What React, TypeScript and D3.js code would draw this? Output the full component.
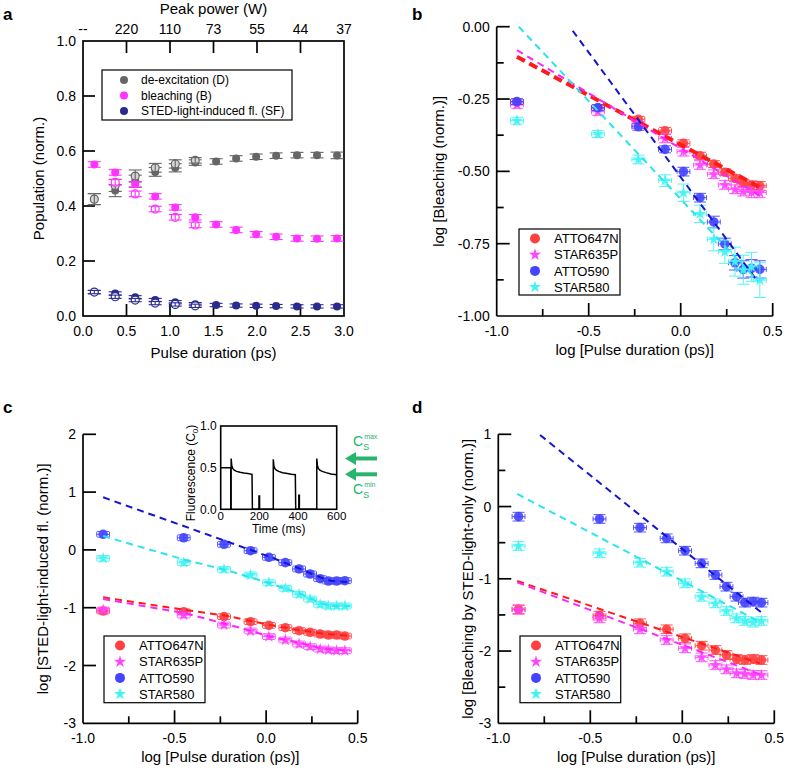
import React from "react";
import * as d3 from "d3";

const FONT = "'Liberation Sans', Arial, Helvetica, sans-serif";

// ---------- panel a : population vs pulse duration ----------
const PULSE_PS = [0.13, 0.37, 0.6, 0.83, 1.06, 1.29, 1.53, 1.76, 1.99, 2.22, 2.46, 2.69, 2.92];
const PULSE_TICKS = [0, 0.5, 1, 1.5, 2, 2.5, 3];
const PEAK_POWER_LABELS = ["--", "220", "110", "73", "55", "44", "37"];
const POP_TICKS = [0, 0.2, 0.4, 0.6, 0.8, 1];

const DEEXC = [0.425, 0.456, 0.49, 0.524, 0.539, 0.558, 0.562, 0.573, 0.579, 0.583, 0.585, 0.585, 0.584];
const DEEXC_OPEN = [0.425, 0.475, 0.509, 0.539, 0.553, 0.566];
const DEEXC_ERR = [0.02, 0.022, 0.022, 0.016, 0.015, 0.01, 0.01, 0.01, 0.01, 0.01, 0.01, 0.01, 0.012];
const BLEACH = [0.551, 0.522, 0.479, 0.435, 0.395, 0.359, 0.333, 0.313, 0.297, 0.288, 0.282, 0.281, 0.282];
const BLEACH_OPEN = [null, 0.486, 0.444, 0.389, 0.359, 0.331];
const STEDFL = [0.087, 0.082, 0.068, 0.058, 0.05, 0.043, 0.04, 0.038, 0.037, 0.036, 0.035, 0.035, 0.035];
const STEDFL_OPEN = [0.087, 0.07, 0.058, 0.047, 0.042, 0.037];
const A_LABELS = ["de-excitation (D)", "bleaching (B)", "STED-light-induced fl. (SF)"];

// ---------- panels b-d : log-log ----------
const LOG_PULSE = [-0.89, -0.45, -0.23, -0.085, 0.015, 0.105, 0.18, 0.24, 0.295, 0.34, 0.385, 0.43];
const LOG_X_MAJOR = [-1, -0.5, 0, 0.5];
const LOG_X_MINOR = [-0.75, -0.25, 0.25];
const DYES = ["ATTO647N", "STAR635P", "ATTO590", "STAR580"];

// b: bleaching
const B_ATTO647N = [-0.26, -0.28, -0.32, -0.36, -0.403, -0.446, -0.475, -0.503, -0.524, -0.54, -0.548, -0.55];
const B_STAR635P = [-0.27, -0.294, -0.34, -0.386, -0.432, -0.478, -0.51, -0.547, -0.562, -0.57, -0.573, -0.573];
const B_ATTO590 = [-0.259, -0.28, -0.346, -0.424, -0.501, -0.591, -0.675, -0.751, -0.816, -0.839, -0.835, -0.839];
const B_STAR580 = [-0.325, -0.371, -0.459, -0.532, -0.574, -0.647, -0.735, -0.778, -0.812, -0.84, -0.83, -0.876];
const B_ERR_ATTO647N = [0.01, 0.01, 0.01, 0.012, 0.012, 0.012, 0.012, 0.012, 0.012, 0.012, 0.015, 0.015];
const B_ERR_STAR635P = [0.012, 0.012, 0.012, 0.015, 0.015, 0.015, 0.015, 0.015, 0.015, 0.015, 0.018, 0.018];
const B_ERR_ATTO590 = [0.01, 0.01, 0.012, 0.012, 0.015, 0.015, 0.02, 0.02, 0.025, 0.03, 0.03, 0.03];
const B_ERR_STAR580 = [0.012, 0.012, 0.015, 0.02, 0.03, 0.03, 0.04, 0.04, 0.05, 0.05, 0.05, 0.06];
const B_FIT_ATTO647N = [[-0.89, -0.104], [0.43, -0.555]];
const B_FIT_STAR635P = [[-0.89, -0.081], [0.43, -0.585]];
const B_FIT_ATTO590 = [[-0.587, -0.014], [0.413, -0.876]];
const B_FIT_STAR580 = [[-0.88, 0], [0.42, -0.88]];
const B_Y_MAJOR = [0, -0.25, -0.5, -0.75, -1];
const B_Y_MINOR = [-0.125, -0.375, -0.625, -0.875];

// c: STED-light-induced fluorescence
const C_ATTO647N = [-1.057, -1.069, -1.155, -1.242, -1.305, -1.346, -1.398, -1.426, -1.455, -1.472, -1.472, -1.49];
const C_STAR635P = [-1.04, -1.126, -1.3, -1.403, -1.5, -1.559, -1.628, -1.674, -1.715, -1.732, -1.744, -1.744];
const C_ATTO590 = [0.27, 0.21, 0.097, -0.014, -0.128, -0.221, -0.33, -0.417, -0.498, -0.538, -0.538, -0.533];
const C_STAR580 = [-0.146, -0.221, -0.336, -0.434, -0.567, -0.665, -0.769, -0.85, -0.942, -0.97, -0.97, -0.97];
const C_FIT_ATTO647N = [[-0.89, -0.82], [-0.44, -1.04], [-0.22, -1.138], [-0.085, -1.225], [0.02, -1.3], [0.18, -1.386], [0.3, -1.443], [0.46, -1.49]];
const C_FIT_STAR635P = [[-0.89, -0.85], [-0.44, -1.097], [-0.22, -1.282], [-0.085, -1.398], [0.02, -1.5], [0.18, -1.605], [0.3, -1.702], [0.46, -1.744]];
const C_FIT_ATTO590 = [[-0.89, 0.91], [0.02, -0.12], [0.18, -0.32], [0.3, -0.48], [0.36, -0.54], [0.46, -0.56]];
const C_FIT_STAR580 = [[-0.89, 0.24], [-0.44, -0.175], [-0.22, -0.348], [-0.085, -0.475], [0.02, -0.578], [0.18, -0.751], [0.3, -0.924], [0.36, -0.97], [0.46, -0.98]];
const C_Y_MAJOR = [2, 1, 0, -1, -2, -3];

// c inset: fluorescence trace
const TRACE = [
  [0, 0.5], [52, 0.5], [52, 0], [54, 0], [54, 0.61], [57, 0.53], [62, 0.49], [70, 0.47], [82, 0.455], [100, 0.445],
  [120, 0.435], [140, 0.43], [162, 0.42], [164, 0], [198, 0], [198, 0.16], [201, 0.16], [201, 0], [272, 0],
  [272, 0.6], [275, 0.52], [280, 0.49], [288, 0.47], [300, 0.455], [320, 0.44], [345, 0.43], [365, 0.42],
  [386, 0.415], [388, 0], [404, 0], [404, 0.17], [407, 0.17], [407, 0], [497, 0], [497, 0.61], [500, 0.53],
  [505, 0.49], [513, 0.47], [525, 0.455], [545, 0.44], [570, 0.425], [600, 0.415],
];
const TIME_TICKS = [0, 200, 400, 600];
const FLUO_TICKS = [0, 0.5, 1];
const CS_MAX = 0.61;
const CS_MIN = 0.42;

// d: bleaching by STED light only
const D_ATTO647N = [-1.422, -1.51, -1.616, -1.699, -1.824, -1.926, -1.986, -2.055, -2.11, -2.124, -2.11, -2.124];
const D_STAR635P = [-1.43, -1.547, -1.699, -1.847, -1.962, -2.087, -2.193, -2.253, -2.308, -2.318, -2.332, -2.332];
const D_ATTO590 = [-0.14, -0.172, -0.292, -0.44, -0.611, -0.786, -0.947, -1.109, -1.248, -1.33, -1.316, -1.33];
const D_STAR580 = [-0.546, -0.647, -0.777, -0.901, -1.063, -1.248, -1.34, -1.446, -1.547, -1.584, -1.607, -1.584];
const D_FIT_ATTO647N = [[-0.897, -1.03], [0.421, -2.17]];
const D_FIT_STAR635P = [[-0.897, -1.05], [0.43, -2.33]];
const D_FIT_ATTO590 = [[-0.773, 0.99], [0.431, -1.469]];
const D_FIT_STAR580 = [[-0.897, 0.174], [0.43, -1.608]];
const D_Y_MAJOR = [1, 0, -1, -2, -3];
const D_Y_MINOR = [0.5, -0.5, -1.5, -2.5];

const LOG_X_ERR = 0.035;

const DYE_STYLE = {
  ATTO647N: { fill: "#ff4040", line: "#ff1a1a", shape: "circle" },
  STAR635P: { fill: "#ff44ff", line: "#ff22ff", shape: "star" },
  ATTO590: { fill: "#4444ff", line: "#1515d0", shape: "circle" },
  STAR580: { fill: "#40f4f4", line: "#2ce4ec", shape: "star" },
};

const starD = d3.symbol().type(d3.symbolStar).size(46)();

function Marker({ cx, cy, shape, fill, r = 4.8 }) {
  if (shape === "star")
    return <path d={starD} transform={`translate(${cx},${cy})`} fill={fill} fillOpacity={0.9} />;
  return <circle cx={cx} cy={cy} r={r} fill={fill} fillOpacity={0.9} />;
}

function Legend({ x, y, w, h, items, first, step, mx, tx, fontSize }) {
  return (
    <g>
      <rect x={x} y={y} width={w} height={h} fill="#fff" stroke="#000" strokeWidth={1.2} />
      {items.map((it, i) => (
        <g key={i}>
          {it.shape === "star" ? (
            <path d={starD} transform={`translate(${x + mx},${y + first + i * step})`} fill={it.fill} />
          ) : (
            <circle cx={x + mx} cy={y + first + i * step} r={it.r || 5} fill={it.fill} />
          )}
          <text x={x + tx} y={y + first + i * step} dy="0.36em" fontSize={fontSize}>
            {it.label}
          </text>
        </g>
      ))}
    </g>
  );
}

function LogPanel({ x, y, yMajor, yMinor, yDigits, series, thickRed, legend, xTitle, yTitle, yTitleX }) {
  const [xmin, xmax] = x.domain();
  const [ymin, ymax] = y.domain();
  const line = d3.line().x((d) => x(d[0])).y((d) => y(d[1]));
  return (
    <g>
      {/* axes */}
      <line x1={x(xmin)} x2={x(xmin)} y1={y(ymax)} y2={y(ymin)} stroke="#000" strokeWidth={1.7} />
      <line x1={x(xmin)} x2={x(xmax)} y1={y(ymin)} y2={y(ymin)} stroke="#000" strokeWidth={1.7} />
      {yMajor.filter((v) => v !== ymin).map((v) => (
        <line key={"ym" + v} x1={x(xmin)} x2={x(xmin) + 13} y1={y(v)} y2={y(v)} stroke="#000" strokeWidth={1.7} />
      ))}
      {yMinor.map((v) => (
        <line key={"yn" + v} x1={x(xmin)} x2={x(xmin) + 7} y1={y(v)} y2={y(v)} stroke="#000" strokeWidth={1.7} />
      ))}
      {LOG_X_MAJOR.filter((v) => v !== xmin).map((v) => (
        <line key={"xm" + v} x1={x(v)} x2={x(v)} y1={y(ymin)} y2={y(ymin) - 13} stroke="#000" strokeWidth={1.7} />
      ))}
      {LOG_X_MINOR.map((v) => (
        <line key={"xn" + v} x1={x(v)} x2={x(v)} y1={y(ymin)} y2={y(ymin) - 7} stroke="#000" strokeWidth={1.7} />
      ))}
      {yMajor.map((v) => (
        <text key={"yl" + v} x={x(xmin) - 7} y={y(v)} dy="0.36em" textAnchor="end" fontSize={14}>
          {v.toFixed(yDigits)}
        </text>
      ))}
      {LOG_X_MAJOR.map((v) => (
        <text key={"xl" + v} x={x(v)} y={y(ymin) + 20} textAnchor="middle" fontSize={14}>
          {v.toFixed(1)}
        </text>
      ))}
      <text x={(x(xmin) + x(xmax)) / 2} y={y(ymin) + 39} textAnchor="middle" fontSize={15}>
        {xTitle}
      </text>
      <text
        transform={`translate(${yTitleX},${(y(ymin) + y(ymax)) / 2}) rotate(-90)`}
        dy="0.36em"
        textAnchor="middle"
        fontSize={15}
      >
        {yTitle}
      </text>

      {/* points with error bars */}
      {series.map((s) =>
        s.values.map((v, i) => {
          const st = DYE_STYLE[s.name];
          const cx = x(LOG_PULSE[i]);
          const cy = y(v);
          const e = Array.isArray(s.err) ? s.err[i] : s.err;
          const xl = x(LOG_PULSE[i] - LOG_X_ERR);
          const xr = x(LOG_PULSE[i] + LOG_X_ERR);
          const yt = y(v + e);
          const yb = y(v - e);
          return (
            <g key={s.name + i}>
              <Marker cx={cx} cy={cy} shape={st.shape} fill={st.fill} />
              <g stroke={st.fill} strokeWidth={1} strokeOpacity={0.9}>
                <line x1={xl} x2={xr} y1={cy} y2={cy} />
                <line x1={xl} x2={xl} y1={cy - 2.5} y2={cy + 2.5} />
                <line x1={xr} x2={xr} y1={cy - 2.5} y2={cy + 2.5} />
                <line x1={cx} x2={cx} y1={yt} y2={yb} />
                <line x1={cx - 6} x2={cx + 6} y1={yt} y2={yt} />
                <line x1={cx - 6} x2={cx + 6} y1={yb} y2={yb} />
              </g>
            </g>
          );
        })
      )}

      {/* fit lines */}
      {series.map((s) => {
        const st = DYE_STYLE[s.name];
        const thick = thickRed && s.name === "ATTO647N";
        return (
          <path
            key={"fit" + s.name}
            d={line(s.fit)}
            fill="none"
            stroke={st.line}
            strokeWidth={thick ? 4 : 2}
            strokeDasharray={thick ? "9 5" : "7 5"}
          />
        );
      })}

      <Legend
        {...legend}
        items={DYES.map((n) => ({ label: n, shape: DYE_STYLE[n].shape, fill: DYE_STYLE[n].fill }))}
        first={9.5}
        step={16.2}
        mx={16}
        tx={35}
        fontSize={13}
      />
    </g>
  );
}

function PanelA() {
  const x = d3.scaleLinear().domain([0, 3]).range([83, 344]);
  const y = d3.scaleLinear().domain([0, 1]).range([316, 41]);
  const groups = [
    { vals: DEEXC, open: DEEXC_OPEN, err: DEEXC_ERR, color: "#666666", openFill: "#d4d4d4" },
    { vals: BLEACH, open: BLEACH_OPEN, err: 0.01, color: "#ff33ff", openFill: "#ffffff" },
    { vals: STEDFL, open: STEDFL_OPEN, err: 0.006, color: "#2b2b8f", openFill: "#ffffff" },
  ];
  const bar = (cx, v, e, color, key) => (
    <g key={key} stroke={color} strokeWidth={1.1}>
      <line x1={cx} x2={cx} y1={y(v - e)} y2={y(v + e)} />
      <line x1={cx - 6.5} x2={cx + 6.5} y1={y(v - e)} y2={y(v - e)} />
      <line x1={cx - 6.5} x2={cx + 6.5} y1={y(v + e)} y2={y(v + e)} />
    </g>
  );
  return (
    <g>
      <rect x={x(0)} y={y(1)} width={x(3) - x(0)} height={y(0) - y(1)} fill="none" stroke="#000" strokeWidth={1.7} />
      {PULSE_TICKS.slice(1, -1).map((t) => (
        <g key={"t" + t} stroke="#000" strokeWidth={1.7}>
          <line x1={x(t)} x2={x(t)} y1={y(0)} y2={y(0) - 12} />
          <line x1={x(t)} x2={x(t)} y1={y(1)} y2={y(1) + 12} />
        </g>
      ))}
      {POP_TICKS.slice(1, -1).map((t) => (
        <line key={"p" + t} x1={x(0)} x2={x(0) + 12} y1={y(t)} y2={y(t)} stroke="#000" strokeWidth={1.7} />
      ))}
      {PULSE_TICKS.map((t) => (
        <text key={"bl" + t} x={x(t)} y={y(0) + 20} textAnchor="middle" fontSize={14}>
          {t.toFixed(1)}
        </text>
      ))}
      {PULSE_TICKS.map((t, i) => (
        <text key={"tl" + t} x={x(t)} y={y(1) - 7} textAnchor="middle" fontSize={14}>
          {PEAK_POWER_LABELS[i]}
        </text>
      ))}
      {POP_TICKS.map((t) => (
        <text key={"ll" + t} x={x(0) - 7} y={y(t)} dy="0.36em" textAnchor="end" fontSize={14}>
          {t.toFixed(1)}
        </text>
      ))}
      <text x={(x(0) + x(3)) / 2} y={14} textAnchor="middle" fontSize={15}>Peak power (W)</text>
      <text x={(x(0) + x(3)) / 2} y={358} textAnchor="middle" fontSize={15}>Pulse duration (ps)</text>
      <text transform={`translate(39,${(y(0) + y(1)) / 2}) rotate(-90)`} dy="0.36em" textAnchor="middle" fontSize={15}>
        Population (norm.)
      </text>

      {groups.map((g, gi) => (
        <g key={"g" + gi}>
          {g.vals.map((v, i) => {
            const e = Array.isArray(g.err) ? g.err[i] : g.err;
            return (
              <g key={i}>
                <circle cx={x(PULSE_PS[i])} cy={y(v)} r={4} fill={g.color} />
                {bar(x(PULSE_PS[i]), v, e, g.color, "e")}
              </g>
            );
          })}
          {g.open.map((v, i) => {
            if (v === null) return null;
            const e = Array.isArray(g.err) ? g.err[i] : g.err;
            return (
              <g key={"o" + i}>
                <circle cx={x(PULSE_PS[i])} cy={y(v)} r={4} fill={g.openFill} stroke={g.color} strokeWidth={1.2} />
                {bar(x(PULSE_PS[i]), v, e, g.color, "e")}
              </g>
            );
          })}
        </g>
      ))}

      <Legend
        x={102}
        y={70}
        w={190}
        h={50}
        items={groups.map((g, i) => ({ label: A_LABELS[i], shape: "circle", fill: g.color, r: 4 }))}
        first={10}
        step={15.5}
        mx={22}
        tx={39}
        fontSize={12}
      />
    </g>
  );
}

function Inset() {
  const x = d3.scaleLinear().domain([0, 600]).range([220.7, 336.7]);
  const y = d3.scaleLinear().domain([0, 1]).range([509.3, 426]);
  const line = d3.line().x((d) => x(d[0])).y((d) => y(d[1]));
  const green = "#27b46c";
  const arrow = (v, key) => {
    const ay = y(v);
    return (
      <g key={key}>
        <line x1={354} x2={377} y1={ay} y2={ay} stroke={green} strokeWidth={4} />
        <path d={`M345,${ay} L356,${ay - 6.5} L356,${ay + 6.5} Z`} fill={green} />
      </g>
    );
  };
  return (
    <g>
      <path d={line(TRACE)} fill="none" stroke="#000" strokeWidth={1.5} />
      <rect x={x(0)} y={y(1)} width={x(600) - x(0)} height={y(0) - y(1)} fill="none" stroke="#000" strokeWidth={1.6} />
      {FLUO_TICKS.map((t) => (
        <text key={"f" + t} x={x(0) - 4} y={y(t)} dy="0.36em" textAnchor="end" fontSize={12}>
          {t.toFixed(1)}
        </text>
      ))}
      {TIME_TICKS.map((t) => (
        <text key={"t" + t} x={x(t)} y={y(0) + 11} textAnchor="middle" fontSize={11.5}>
          {t}
        </text>
      ))}
      <text x={x(300)} y={y(0) + 24} textAnchor="middle" fontSize={12}>Time (ms)</text>
      <text transform={`translate(191,473) rotate(-90)`} dy="0.36em" textAnchor="middle" fontSize={12}>
        Fluorescence (C<tspan fontSize={8} dy="3">0</tspan><tspan dy="-3">)</tspan>
      </text>
      {arrow(CS_MAX, "amax")}
      {arrow(CS_MIN, "amin")}
      <text x={353} y={y(CS_MAX) - 12} fill={green} fontSize={14}>
        C<tspan fontSize={9} dy="4">S</tspan><tspan fontSize={7} dx="-5" dy="-11">max</tspan>
      </text>
      <text x={353} y={y(CS_MIN) + 20} fill={green} fontSize={14}>
        C<tspan fontSize={9} dy="4">S</tspan><tspan fontSize={7} dx="-5" dy="-11">min</tspan>
      </text>
    </g>
  );
}

export default function App() {
  const xb = d3.scaleLinear().domain([-1, 0.5]).range([496.7, 772.7]);
  const yb = d3.scaleLinear().domain([-1, 0]).range([316, 26.7]);
  const xc = d3.scaleLinear().domain([-1, 0.5]).range([83, 357.7]);
  const yc = d3.scaleLinear().domain([-3, 2]).range([723.3, 434.3]);
  const xd = d3.scaleLinear().domain([-1, 0.5]).range([498.3, 774.3]);
  const yd = d3.scaleLinear().domain([-3, 1]).range([723.3, 434.3]);

  const bSeries = [
    { name: "ATTO647N", values: B_ATTO647N, err: B_ERR_ATTO647N, fit: B_FIT_ATTO647N },
    { name: "STAR635P", values: B_STAR635P, err: B_ERR_STAR635P, fit: B_FIT_STAR635P },
    { name: "ATTO590", values: B_ATTO590, err: B_ERR_ATTO590, fit: B_FIT_ATTO590 },
    { name: "STAR580", values: B_STAR580, err: B_ERR_STAR580, fit: B_FIT_STAR580 },
  ];
  const cSeries = [
    { name: "ATTO647N", values: C_ATTO647N, err: 0.05, fit: C_FIT_ATTO647N },
    { name: "STAR635P", values: C_STAR635P, err: 0.05, fit: C_FIT_STAR635P },
    { name: "ATTO590", values: C_ATTO590, err: 0.05, fit: C_FIT_ATTO590 },
    { name: "STAR580", values: C_STAR580, err: 0.05, fit: C_FIT_STAR580 },
  ];
  const dSeries = [
    { name: "ATTO647N", values: D_ATTO647N, err: 0.06, fit: D_FIT_ATTO647N },
    { name: "STAR635P", values: D_STAR635P, err: 0.06, fit: D_FIT_STAR635P },
    { name: "ATTO590", values: D_ATTO590, err: 0.06, fit: D_FIT_ATTO590 },
    { name: "STAR580", values: D_STAR580, err: 0.06, fit: D_FIT_STAR580 },
  ];

  return (
    <svg width={787} height={775} style={{ position: "absolute", left: 0, top: 0, fontFamily: FONT }}>
      <rect width={787} height={775} fill="#fff" />
      <text x={3} y={19.5} fontSize={17} fontWeight="bold">a</text>
      <text x={412} y={19.5} fontSize={17} fontWeight="bold">b</text>
      <text x={3} y={412.7} fontSize={17} fontWeight="bold">c</text>
      <text x={412} y={412.7} fontSize={17} fontWeight="bold">d</text>

      <PanelA />
      <LogPanel
        x={xb}
        y={yb}
        yMajor={B_Y_MAJOR}
        yMinor={B_Y_MINOR}
        yDigits={2}
        series={bSeries}
        thickRed={true}
        legend={{ x: 519, y: 229, w: 101, h: 66 }}
        xTitle="log [Pulse duration (ps)]"
        yTitle="log [Bleaching (norm.)]"
        yTitleX={439}
      />
      <LogPanel
        x={xc}
        y={yc}
        yMajor={C_Y_MAJOR}
        yMinor={[]}
        yDigits={0}
        series={cSeries}
        thickRed={false}
        legend={{ x: 104, y: 636, w: 101, h: 66.7 }}
        xTitle="log [Pulse duration (ps)]"
        yTitle="log [STED-light-induced fl. (norm.)]"
        yTitleX={43}
      />
      <Inset />
      <LogPanel
        x={xd}
        y={yd}
        yMajor={D_Y_MAJOR}
        yMinor={D_Y_MINOR}
        yDigits={0}
        series={dSeries}
        thickRed={false}
        legend={{ x: 520, y: 636, w: 100.7, h: 66.7 }}
        xTitle="log [Pulse duration (ps)]"
        yTitle="log [Bleaching by STED-light-only (norm.)]"
        yTitleX={468}
      />
    </svg>
  );
}
